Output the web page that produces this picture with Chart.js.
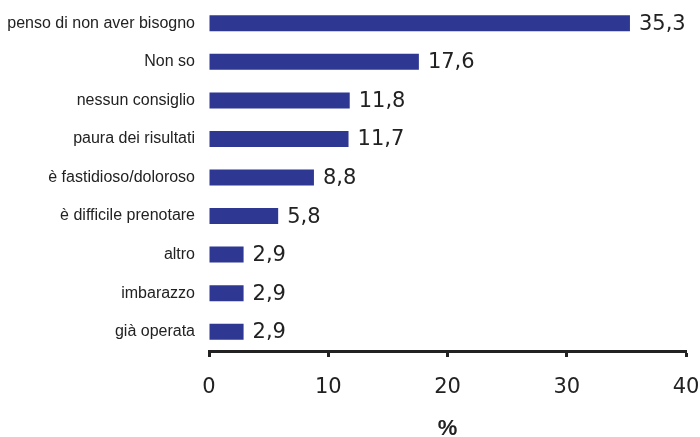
<!DOCTYPE html>
<html>
<head>
<meta charset="utf-8">
<script src="https://cdn.jsdelivr.net/npm/chart.js@4"></script>
<style>
    html, body { margin: 0; padding: 0; background: #fff; }
    #wrap { width: 700px; height: 437px; }
</style>
</head>
<body>
<div id="wrap"><canvas id="chart"></canvas></div>
<script>
const categories = [
    "penso di non aver bisogno",
    "Non so",
    "nessun consiglio",
    "paura dei risultati",
    "è fastidioso/doloroso",
    "è difficile prenotare",
    "altro",
    "imbarazzo",
    "già operata",
];
const values = [35.3, 17.6, 11.8, 11.7, 8.8, 5.8, 2.9, 2.9, 2.9];
const xTicks = [0, 10, 20, 30, 40];

const barColor = "rgb(46, 55, 146)";
const inkColor = "#222";

// numbers written next to each bar, with a comma as decimal mark
const valueLabels = {
    id: "valueLabels",
    afterDatasetsDraw(chart) {
        const ctx = chart.ctx;
        const meta = chart.getDatasetMeta(0);
        ctx.save();
        ctx.font = "21px 'DejaVu Sans'";
        ctx.fillStyle = inkColor;
        ctx.textAlign = "left";
        ctx.textBaseline = "middle";
        meta.data.forEach((bar, i) => {
            const txt = values[i].toFixed(1).replace(".", ",");
            ctx.fillText(txt, bar.x + 9, bar.y + 1);
        });
        ctx.restore();
    },
};

const data = {
    labels: categories,
    datasets: [
        {
            data: values,
            backgroundColor: barColor,
            barPercentage: 0.415,
            categoryPercentage: 1,
        },
    ],
};

const config = {
    type: "bar",
    data: data,
    options: {
        indexAxis: "y",
        responsive: true,
        maintainAspectRatio: false,
        animation: false,
        layout: { padding: { top: 4, right: 14, bottom: 0, left: 0 } },
        plugins: {
            legend: { display: false },
            tooltip: { enabled: false },
        },
        scales: {
            y: {
                grid: { display: false, drawTicks: false },
                border: { display: false },
                ticks: {
                    padding: 14,
                    color: inkColor,
                    font: { family: "'Liberation Sans', Arial", size: 16 },
                },
                afterFit(scale) {
                    scale.width = 209;
                    scale.paddingTop = 0;
                    scale.paddingBottom = 0;
                },
            },
            x: {
                min: 0,
                max: 40,
                afterBuildTicks(scale) {
                    scale.ticks = xTicks.map((v) => ({ value: v }));
                },
                afterFit(scale) {
                    scale.height = 86;
                    scale.paddingLeft = 0;
                    scale.paddingRight = 0;
                },
                grid: {
                    drawOnChartArea: false,
                    drawTicks: true,
                    tickLength: 6,
                    tickWidth: 3,
                    tickColor: inkColor,
                },
                border: { display: true, color: inkColor, width: 3 },
                ticks: {
                    padding: 18,
                    color: inkColor,
                    font: { family: "'DejaVu Sans'", size: 21 },
                },
                title: {
                    display: true,
                    text: "%",
                    color: inkColor,
                    padding: { top: 0, bottom: -5 },
                    font: { family: "'Liberation Sans', Arial", size: 22, weight: "bold" },
                },
            },
        },
    },
    plugins: [valueLabels],
};

const chartD = document.getElementById("chart");
const myChart = new Chart(chartD, config);
</script>
</body>
</html>
